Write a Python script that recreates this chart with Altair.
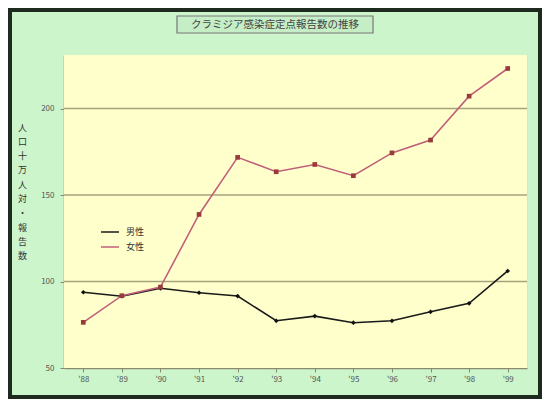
import altair as alt
import pandas as pd

years = ["'88", "'89", "'90", "'91", "'92", "'93", "'94", "'95", "'96", "'97", "'98", "'99"]
male = [93.8, 91.5, 96.1, 93.5, 91.6, 77.3, 80.0, 76.2, 77.3, 82.5, 87.4, 106.1]
female = [76.4, 91.8, 96.8, 138.8, 171.8, 163.5, 167.7, 161.2, 174.4, 181.8, 207.2, 223.2]
series = ["男性", "女性"]
line_colors = ["#1a1a1a", "#c0607a"]
y_ticks = [50, 100, 150, 200]
grid_values = [100, 150, 200]
title_text = "クラミジア感染症定点報告数の推移"
y_title = list("人口十万人対・報告数")

FONT = "Noto Sans CJK JP"
W, H = 463, 313
PL, PT, PR, PB = 56, 47, 15, 31

df = pd.DataFrame({
    "year": years * 2,
    "value": male + female,
    "sex": [series[0]] * len(years) + [series[1]] * len(years),
})
grid_df = pd.DataFrame({"value": grid_values})
one = pd.DataFrame({"a": [0]})

yscale = alt.Scale(domain=[50, 231], nice=False, zero=False)

x = alt.X(
    "year:O", sort=years,
    scale=alt.Scale(type="point", padding=0.5),
    axis=alt.Axis(title=None, labelAngle=0, labelFontSize=8, labelColor="#555555",
                  tickSize=4, tickColor="#8a8a70", domainColor="#8a8a70",
                  domainWidth=1.5, grid=False, labelPadding=3, labelFont=FONT),
)
y = alt.Y(
    "value:Q",
    scale=yscale,
    axis=alt.Axis(values=y_ticks, title=y_title, titleAngle=0, titleX=-42, titleY=68,
                  titleAlign="center", titleBaseline="top", titleFontSize=9,
                  titleLineHeight=14.3, titleFontWeight="normal", titleColor="#333333",
                  titleFont=FONT, labelFont=FONT,
                  labelFontSize=8, labelColor="#555555", grid=False,
                  tickSize=4, tickColor="#8a8a70", domainColor="#8a8a70",
                  domainWidth=1.5, labelPadding=6),
)
color = alt.Color(
    "sex:N", sort=series,
    scale=alt.Scale(domain=series, range=line_colors),
    legend=alt.Legend(title=None, orient="none", legendX=36, legendY=167,
                      symbolType="stroke", symbolSize=324, symbolStrokeWidth=1.5,
                      labelFontSize=9, labelFont=FONT, labelColor="#333333",
                      rowPadding=0, labelOffset=6),
)

plot_bg = alt.Chart(one).mark_rect(fill="#ffffcc").encode(
    x=alt.value(0), x2=alt.value(W), y=alt.value(0), y2=alt.value(H)
)
grid = alt.Chart(grid_df).mark_rule(color="#a8a27c", strokeWidth=1.5).encode(
    y=alt.Y("value:Q", scale=yscale), x=alt.value(0), x2=alt.value(W)
)
lines = alt.Chart(df).mark_line(strokeWidth=1.6).encode(x=x, y=y, color=color)
points = alt.Chart(df).mark_point(filled=True, size=22, opacity=1).encode(
    x=x, y=y,
    color=alt.Color("sex:N", sort=series,
                    scale=alt.Scale(domain=series, range=["#111111", "#9a3b3b"]),
                    legend=None),
    shape=alt.Shape("sex:N", sort=series,
                    scale=alt.Scale(domain=series, range=["diamond", "square"]),
                    legend=None),
)

frame = alt.Chart(one).mark_rect(fill="transparent", stroke="#1e2a1e", strokeWidth=8).encode(
    x=alt.value(-PL), x2=alt.value(W + PR), y=alt.value(-PT), y2=alt.value(H + PB)
)
title_box = alt.Chart(one).mark_rect(fill="#c6eec6", stroke="#777777", strokeWidth=1.2).encode(
    x=alt.value(113), x2=alt.value(309), y=alt.value(-39), y2=alt.value(-22)
)
title_mark = alt.Chart(one).mark_text(
    text=title_text, font=FONT, fontSize=10.5, color="#444444",
    align="center", baseline="middle"
).encode(x=alt.value(211), y=alt.value(-30.5))

chart = alt.layer(plot_bg, grid, frame, title_box, title_mark, lines, points).resolve_scale(
    color="independent", shape="independent"
).properties(
    width=W, height=H,
    autosize=alt.AutoSizeParams(type="none"),
    padding={"left": PL, "top": PT, "right": PR, "bottom": PB},
    background="#ccf5cc",
).configure_view(stroke="transparent").configure(font=FONT)

chart.save("out.html", embed_options={"renderer": "svg", "actions": False})
